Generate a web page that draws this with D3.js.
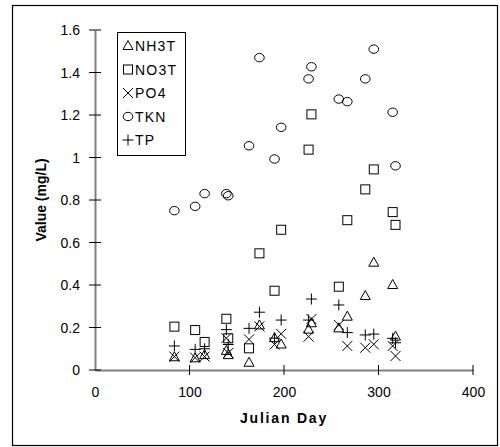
<!DOCTYPE html>
<html><head><meta charset="utf-8">
<script src="https://cdn.jsdelivr.net/npm/d3@7"></script>
<style>body{margin:0;background:#fff}svg{display:block}text{font-family:"Liberation Sans",Arial,sans-serif}</style>
</head><body><svg id="c" width="500" height="447"></svg>
<script>
const days = [84,106,116,139,141,163,174,190,197,226,229,258,267,286,295,315,318];
const NH3T = [0.06,0.055,0.07,0.09,0.07,0.034,0.21,0.15,0.12,0.19,0.22,0.196,0.251,0.348,0.505,0.40,0.157];
const NO3T = [0.204,0.188,0.132,0.241,0.149,0.102,0.549,0.373,0.66,1.037,1.203,0.392,0.705,0.85,0.944,0.743,0.683];
const PO4  = [0.063,0.058,0.063,0.15,0.08,0.144,0.205,0.12,0.17,0.157,0.24,0.212,0.113,0.105,0.121,0.113,0.066];
const TKN  = [0.75,0.77,0.83,0.83,0.82,1.055,1.47,0.993,1.142,1.37,1.427,1.275,1.263,1.37,1.51,1.213,0.961];
const TP   = [0.113,0.097,0.10,0.19,0.12,0.196,0.272,0.15,0.235,0.235,0.334,0.306,0.176,0.165,0.169,0.149,0.128];
const seriesNames = ["NH3T","NO3T","PO4","TKN","TP"];
const seriesVals = [NH3T,NO3T,PO4,TKN,TP];
const shapes = ["triangle","square","cross","circle","plus"];
const xTicks = [0,100,200,300,400];
const yTicks = [0,0.2,0.4,0.6,0.8,1,1.2,1.4,1.6];

const svg = d3.select("#c");
svg.append("rect").attr("x",12.5).attr("y",5.5).attr("width",485).attr("height",440)
  .attr("fill","#fff").attr("stroke","#000").attr("stroke-width",1.2);

const x = d3.scaleLinear().domain([0,400]).range([95,473]);
const y = d3.scaleLinear().domain([0,1.6]).range([370,30]);

function sym(g, shape, cx, cy){
  const s = g.append("g").attr("transform",`translate(${cx},${cy})`)
    .attr("fill","none").attr("stroke","#000").attr("stroke-width",1);
  if(shape==="triangle") s.append("path").attr("d","M0,-5.5L5,3.5L-5,3.5Z");
  else if(shape==="square") s.append("rect").attr("x",-4.5).attr("y",-4.5).attr("width",9).attr("height",9);
  else if(shape==="circle") s.append("ellipse").attr("rx",4.8).attr("ry",4.2);
  else if(shape==="cross") s.append("path").attr("d","M-5,-5L5,5M-5,5L5,-5");
  else if(shape==="plus") s.append("path").attr("d","M-5.5,0L5.5,0M0,-5.5L0,5.5");
}

// axes
const gx = svg.append("g").attr("transform","translate(0,370)")
  .call(d3.axisBottom(x).tickValues(xTicks).tickSize(0).tickFormat(d3.format("d")));
gx.select(".domain").attr("stroke","#808080").attr("stroke-width",2);
gx.selectAll("text").attr("font-size",14).attr("fill","#000").attr("dy",0).attr("y",27);
xTicks.forEach(t=>{ if(t>0) svg.append("line").attr("x1",x(t)).attr("x2",x(t)).attr("y1",365).attr("y2",375).attr("stroke","#000"); });

const gy = svg.append("g").attr("transform","translate(95,0)")
  .call(d3.axisLeft(y).tickValues(yTicks).tickSize(0).tickFormat(d=>d3.format("")(+d.toFixed(1))));
gy.select(".domain").attr("stroke","#808080").attr("stroke-width",2);
gy.selectAll("text").attr("font-size",14).attr("fill","#000").attr("x",-15).attr("dy","0.35em");
yTicks.forEach(t=>{ svg.append("line").attr("x1",89).attr("x2",101).attr("y1",y(t)).attr("y2",y(t)).attr("stroke","#000"); });

// titles
svg.append("text").attr("x",284).attr("y",423).attr("text-anchor","middle")
  .attr("font-size",14).attr("font-weight","bold").attr("letter-spacing",1.8).text("Julian Day");
svg.append("text").attr("transform","translate(46,200) rotate(-90)").attr("text-anchor","middle")
  .attr("font-size",14).attr("font-weight","bold").text("Value (mg/L)");

// points
const gp = svg.append("g");
seriesVals.forEach((vals,i)=>{
  vals.forEach((v,j)=> sym(gp, shapes[i], x(days[j]), y(v)));
});

// legend
const lg = svg.append("g");
lg.append("rect").attr("x",117.5).attr("y",32.5).attr("width",68).attr("height",123)
  .attr("fill","#fff").attr("stroke","#000").attr("stroke-width",1);
seriesNames.forEach((n,i)=>{
  const cy = 46 + i*23.5;
  sym(lg, shapes[i], 128, cy);
  lg.append("text").attr("x",135).attr("y",cy).attr("dy","0.36em").attr("font-size",14).attr("letter-spacing",1.2).text(n);
});
</script></body></html>
